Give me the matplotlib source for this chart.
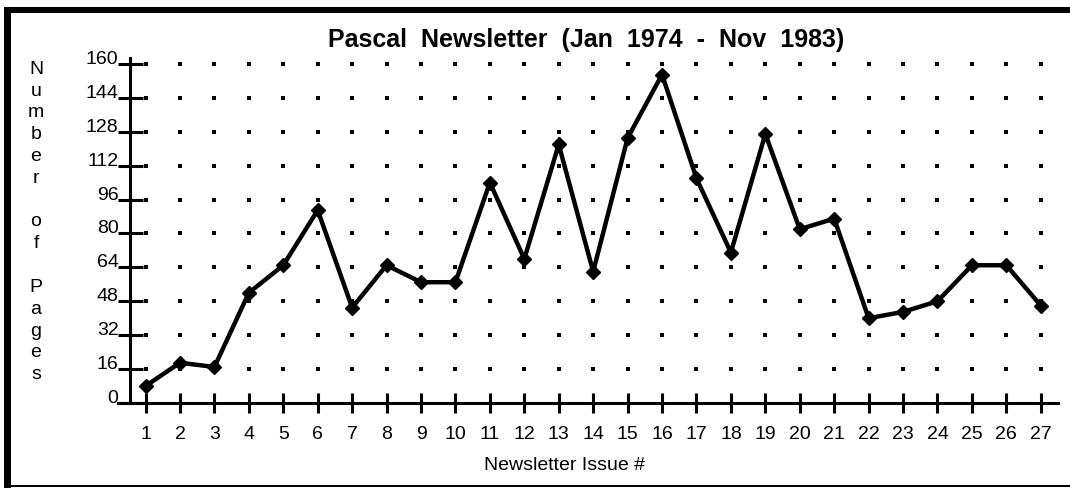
import matplotlib

matplotlib.use("Agg")
import matplotlib.pyplot as plt
from matplotlib.patches import Rectangle

# ── data ─────────────────────────────────────────────
issues = list(range(1, 28))
pages = [8, 19, 17, 52, 65, 91, 45, 65, 57, 57, 104, 68, 122, 62, 125,
         155, 106, 71, 127, 82, 87, 40, 43, 48, 65, 65, 46]
y_ticks = [0, 16, 32, 48, 64, 80, 96, 112, 128, 144, 160]
grid_levels = y_ticks[1:]

TITLE = "Pascal  Newsletter  (Jan  1974  -  Nov  1983)"
XLABEL = "Newsletter Issue #"
YLABEL = "Number of Pages"

plt.rcParams["font.family"] = ["Liberation Sans", "DejaVu Sans"]

W, H = 1070, 488
fig = plt.figure(figsize=(W / 100, H / 100), dpi=100)
fig.patch.set_facecolor("white")

# axes placed in pixel terms: x 118..1058, y(0) at 403, top at 58
ax = fig.add_axes([118 / W, (H - 403) / H, (1058 - 118) / W, (403 - 58) / H])
ax.set_xlim(0.2, 27.5)
ax.set_ylim(0, 162.8)

# dotted grid: a dot at every issue / every level
gx = [i for lv in grid_levels for i in issues]
gy = [lv for lv in grid_levels for i in issues]
ax.scatter(gx, gy, s=5, marker="s", color="black", linewidths=0, zorder=1)

ax.plot(issues, pages, color="black", lw=3.2, marker="D", ms=7,
        markerfacecolor="black", markeredgecolor="black", zorder=3,
        solid_joinstyle="miter")

for s in ("top", "right"):
    ax.spines[s].set_visible(False)
ax.spines["left"].set_position(("data", 0.54))
ax.spines["left"].set_linewidth(2.2)
ax.spines["bottom"].set_linewidth(2.2)

ax.set_xticks(issues)
ax.set_xticklabels([str(i) for i in issues])
ax.set_yticks(y_ticks)
ax.set_yticklabels([str(v) for v in y_ticks])
ax.tick_params(axis="x", direction="inout", length=15, width=2.2, pad=9,
               labelsize=14)
ax.tick_params(axis="y", direction="inout", length=18, width=2.2, pad=-1,
               labelsize=14)
for tl in ax.get_yticklabels():
    tl.set_verticalalignment("baseline")

fig.text(586 / W, 1 - 40 / H, TITLE, ha="center", va="center",
         fontsize=18, fontweight="bold")
fig.text(565 / W, 1 - 465 / H, XLABEL, ha="center", va="center", fontsize=14)
fig.text(36 / W, 1 - 222 / H, "\n".join(YLABEL), ha="center", va="center",
         fontsize=14, linespacing=1.37)

# frame: thick left and top, thin bottom
fig.add_artist(Rectangle((4 / W, 0), 7 / W, 1 - 7 / H, transform=fig.transFigure,
                         color="black", lw=0))
fig.add_artist(Rectangle((4 / W, 1 - 13 / H), 1, 6 / H, transform=fig.transFigure,
                         color="black", lw=0))
fig.add_artist(Rectangle((4 / W, 1 - 487 / H), 1, 2 / H, transform=fig.transFigure,
                         color="black", lw=0))

fig.savefig("out.png", dpi=100)
